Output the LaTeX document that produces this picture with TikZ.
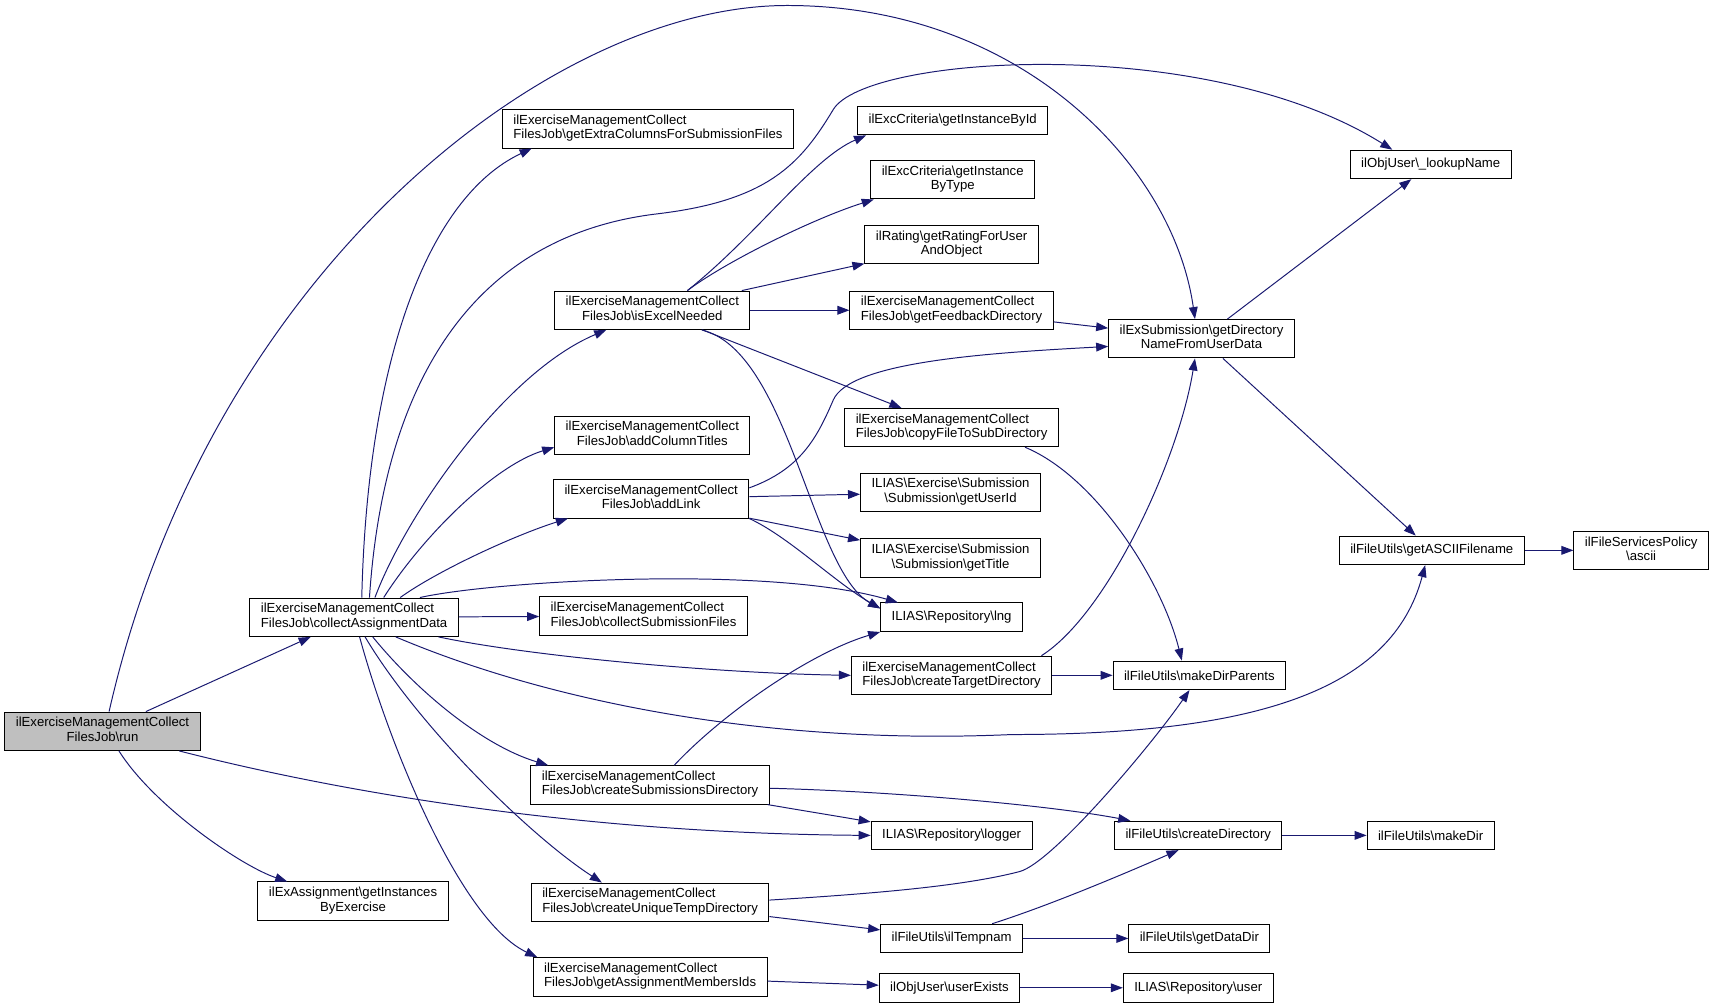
\documentclass[tikz,border=0pt]{standalone}
\usepackage{fontspec}
\setmainfont{Liberation Sans}
\usetikzlibrary{arrows.meta}

\definecolor{edgeblue}{HTML}{191970}
\definecolor{rootgray}{HTML}{BFBFBF}

\newcommand\bsl{\textbackslash}
% first line flush left, last line centred
\newcommand\twoline[2]{%
  \setbox0=\hbox{\strut#1}\setbox2=\hbox{\strut#2}%
  \ifdim\wd0>\wd2 \dimen0=\wd0 \else \dimen0=\wd2 \fi
  \vbox{\hbox to\dimen0{\box0\hfil}\hbox to\dimen0{\hfil\box2\hfil}}}

\tikzset{
  fn/.style={draw=black, line width=0.9pt, rectangle, inner xsep=10pt, inner ysep=4.5pt,
    minimum height=26pt, font=\fontsize{12}{13}\selectfont},
  root/.style={fn, fill=rootgray},
  call/.style={-{Triangle[length=11pt,width=8pt]}, draw=edgeblue, line width=0.9pt},
}

\begin{document}
\begin{tikzpicture}[x=1pt,y=-1pt]
  \useasboundingbox (0,0) rectangle (1568,918.5);

  % column 1 and 2
  \node[root] (run)  at (93.5,667) {\twoline{ilExerciseManagementCollect}{FilesJob\bsl run}};
  \node[fn]   (coll) at (323,563)  {\twoline{ilExerciseManagementCollect}{FilesJob\bsl collectAssignmentData}};
  \node[fn]   (gie)  at (322,822)  {\twoline{ilExAssignment\bsl getInstances}{ByExercise}};

  % column 3
  \node[fn] (gex) at (591,117.5) {\twoline{ilExerciseManagementCollect}{FilesJob\bsl getExtraColumnsForSubmissionFiles}};
  \node[fn] (iex) at (595,283) {\twoline{ilExerciseManagementCollect}{FilesJob\bsl isExcelNeeded}};
  \node[fn] (act) at (595,397) {\twoline{ilExerciseManagementCollect}{FilesJob\bsl addColumnTitles}};
  \node[fn] (alk) at (594,455) {\twoline{ilExerciseManagementCollect}{FilesJob\bsl addLink}};
  \node[fn] (csf) at (587,562) {\twoline{ilExerciseManagementCollect}{FilesJob\bsl collectSubmissionFiles}};
  \node[fn] (csd) at (593,716) {\twoline{ilExerciseManagementCollect}{FilesJob\bsl createSubmissionsDirectory}};
  \node[fn] (cut) at (593,823) {\twoline{ilExerciseManagementCollect}{FilesJob\bsl createUniqueTempDirectory}};
  \node[fn] (gam) at (593,891) {\twoline{ilExerciseManagementCollect}{FilesJob\bsl getAssignmentMembersIds}};

  % column 4
  \node[fn] (gib)  at (869,110) {ilExcCriteria\bsl getInstanceById};
  \node[fn] (gibt) at (869,164) {\twoline{ilExcCriteria\bsl getInstance}{ByType}};
  \node[fn] (grf)  at (868,223) {\twoline{ilRating\bsl getRatingForUser}{AndObject}};
  \node[fn] (gfd)  at (868,283) {\twoline{ilExerciseManagementCollect}{FilesJob\bsl getFeedbackDirectory}};
  \node[fn] (cfs)  at (868,390) {\twoline{ilExerciseManagementCollect}{FilesJob\bsl copyFileToSubDirectory}};
  \node[fn] (gui)  at (867,449) {\twoline{ILIAS\bsl Exercise\bsl Submission}{\bsl Submission\bsl getUserId}};
  \node[fn] (gti)  at (867,509) {\twoline{ILIAS\bsl Exercise\bsl Submission}{\bsl Submission\bsl getTitle}};
  \node[fn] (lng)  at (868,563) {ILIAS\bsl Repository\bsl lng};
  \node[fn] (ctd)  at (868,616) {\twoline{ilExerciseManagementCollect}{FilesJob\bsl createTargetDirectory}};
  \node[fn] (lgr)  at (868,762) {ILIAS\bsl Repository\bsl logger};
  \node[fn] (itn)  at (868,856) {ilFileUtils\bsl ilTempnam};
  \node[fn] (uex)  at (866,901) {ilObjUser\bsl userExists};

  % column 5 to 7
  \node[fn] (gdn) at (1096,309) {\twoline{ilExSubmission\bsl getDirectory}{NameFromUserData}};
  \node[fn] (mdp) at (1094,616) {ilFileUtils\bsl makeDirParents};
  \node[fn] (cdr) at (1093,762) {ilFileUtils\bsl createDirectory};
  \node[fn] (gdd) at (1094,856) {ilFileUtils\bsl getDataDir};
  \node[fn] (usr) at (1093,901) {ILIAS\bsl Repository\bsl user};
  \node[fn] (lkn) at (1305,150) {ilObjUser\bsl\_lookupName};
  \node[fn] (gaf) at (1306,502) {ilFileUtils\bsl getASCIIFilename};
  \node[fn] (mkd) at (1305,762) {ilFileUtils\bsl makeDir};
  \node[fn] (asc) at (1497,502) {\twoline{ilFileServicesPolicy}{\bsl ascii}};

  % calls of run
  \draw[call] (run) -- (coll);
  \draw[call] ([xshift=15pt]run.south) .. controls (140,735) and (220,790) .. ([xshift=-60pt]gie.north);
  \draw[call] ([xshift=70pt]run.south) .. controls (300,720) and (520,760) .. (lgr.west);
  \draw[call] ([xshift=6pt]run.north) .. controls (190,250) and (500,5) .. (718,5)
    .. controls (930,5) and (1070,150) .. ([xshift=-6pt]gdn.north);

  % calls of collectAssignmentData
  \draw[call] ([xshift=7pt]coll.north) .. controls (335,330) and (390,180) .. ([xshift=-106pt]gex.south);
  \draw[call] ([xshift=14pt]coll.north) .. controls (350,350) and (430,215) .. (600,195)
    .. controls (700,183) and (730,150) .. (760,100)
    .. controls (790,50) and (1100,30) .. ([xshift=-35pt]lkn.north);
  \draw[call] ([xshift=19pt]coll.north) .. controls (370,470) and (460,340) .. ([xshift=-42pt]iex.south);
  \draw[call] ([xshift=27pt]coll.north) .. controls (385,490) and (450,425) .. ([yshift=-11pt]act.west);
  \draw[call] ([xshift=42pt]coll.north) .. controls (400,520) and (470,488) .. ([xshift=-76pt]alk.south);
  \draw[call] ([xshift=60pt]coll.north) .. controls (450,530) and (700,515) .. ([xshift=-49pt]lng.north);
  \draw[call] (coll) -- (csf);
  \draw[call] ([xshift=77pt]coll.south) .. controls (480,598) and (650,614) .. (ctd.west);
  \draw[call] ([xshift=38pt]coll.south) .. controls (500,640) and (700,680) .. (923,670)
    .. controls (1150,670) and (1270,628) .. ([xshift=-6pt]gaf.south);
  \draw[call] ([xshift=17pt]coll.south) .. controls (380,630) and (440,680) .. ([xshift=-93pt]csd.north);
  \draw[call] ([xshift=10pt]coll.south) .. controls (380,660) and (480,760) .. ([xshift=-44pt]cut.north);
  \draw[call] ([xshift=5pt]coll.south) .. controls (355,680) and (420,840) .. ([xshift=-103pt]gam.north);

  % calls of isExcelNeeded
  \draw[call] ([xshift=32pt]iex.north) .. controls (690,215) and (740,145) .. ([xshift=-79pt]gib.south);
  \draw[call] ([xshift=32pt]iex.north) .. controls (660,240) and (740,200) .. ([xshift=-72pt]gibt.south);
  \draw[call] (iex) -- (grf);
  \draw[call] (iex) -- (gfd);
  \draw[call] (iex) -- (cfs);
  \draw[call] ([xshift=45pt]iex.south) .. controls (720,320) and (740,520) .. ([yshift=8pt]lng.west);

  % calls of addLink
  \draw[call] ([yshift=10pt]alk.east) .. controls (730,428) and (745,400) .. (760,365)
    .. controls (775,330) and (900,322) .. ([yshift=-7pt]gdn.west);
  \draw[call] (alk) -- (gui);
  \draw[call] (alk) -- (gti);
  \draw[call] (alk.south east) .. controls (720,490) and (760,530) .. ([yshift=8pt]lng.west);

  % remaining calls
  \draw[call] (gfd) -- (gdn);
  \draw[call] ([xshift=67pt]cfs.south) .. controls (1000,435) and (1060,530) .. ([xshift=-16pt]mdp.north);
  \draw[call] ([xshift=82pt]ctd.north) .. controls (1010,560) and (1075,420) .. ([xshift=-6pt]gdn.south);
  \draw[call] (ctd) -- (mdp);
  \draw[call] ([xshift=22pt]csd.north) .. controls (660,650) and (740,595) .. (lng.south west);
  \draw[call] ([yshift=-3pt]csd.east) .. controls (820,722) and (960,735) .. ([xshift=-62pt]cdr.north);
  \draw[call] (csd) -- (lgr);
  \draw[call] ([yshift=2pt]cut.east) .. controls (800,815) and (880,808) .. (930,795)
    .. controls (960,787) and (1050,680) .. ([xshift=-9pt]mdp.south);
  \draw[call] (cut) -- (itn);
  \draw[call] (gam) -- (uex);
  \draw[call] (gdn) -- (lkn);
  \draw[call] (gdn) -- (gaf);
  \draw[call] (gaf) -- (asc);
  \draw[call] (cdr) -- (mkd);
  \draw[call] ([xshift=37pt]itn.north) .. controls (960,825) and (1030,795) .. ([xshift=-18pt]cdr.south);
  \draw[call] (itn) -- (gdd);
  \draw[call] (uex) -- (usr);
\end{tikzpicture}
\end{document}
